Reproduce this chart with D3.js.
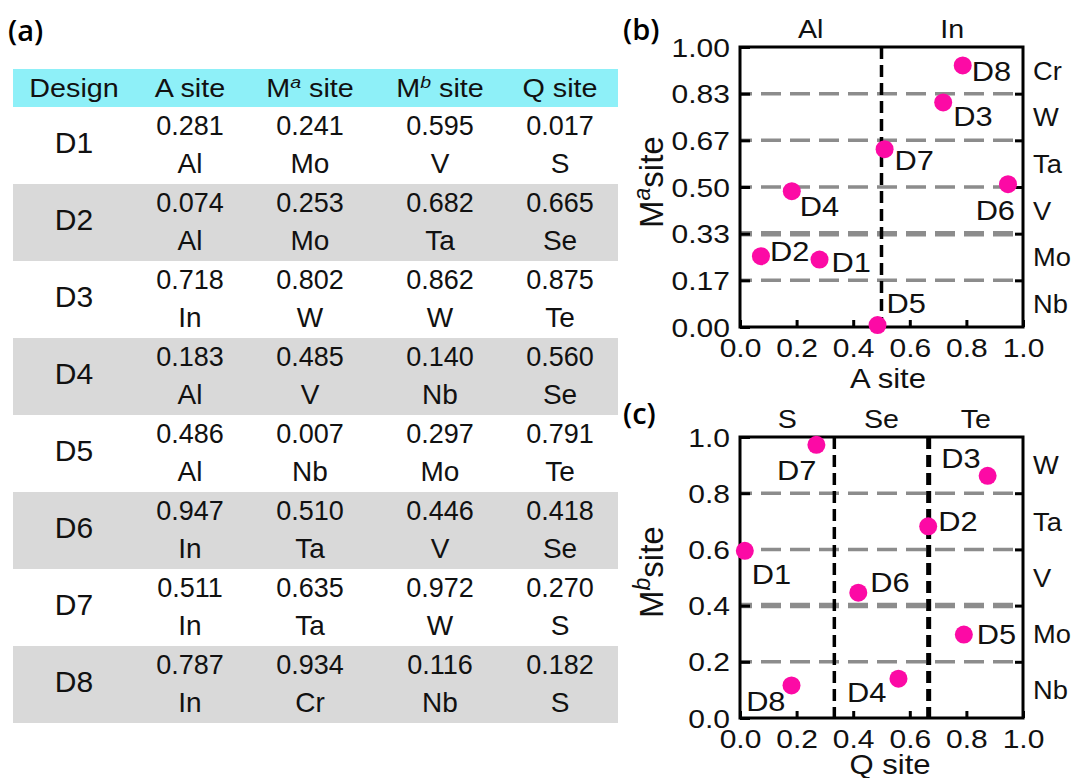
<!DOCTYPE html>
<html>
<head>
<meta charset="utf-8">
<script src="https://cdn.jsdelivr.net/npm/d3@7/dist/d3.min.js"></script>
<style>
  html, body { margin: 0; padding: 0; background: #fff; }
  svg { display: block; }
</style>
</head>
<body>
<svg id="fig" width="1077" height="778"></svg>
<script>
// ---- design table values ----
const designs = ["D1", "D2", "D3", "D4", "D5", "D6", "D7", "D8"];
const aSite  = [0.281, 0.074, 0.718, 0.183, 0.486, 0.947, 0.511, 0.787];
const aElem  = ["Al", "Al", "In", "Al", "Al", "In", "In", "In"];
const maSite = [0.241, 0.253, 0.802, 0.485, 0.007, 0.510, 0.635, 0.934];
const maElem = ["Mo", "Mo", "W", "V", "Nb", "Ta", "Ta", "Cr"];
const mbSite = [0.595, 0.682, 0.862, 0.140, 0.297, 0.446, 0.972, 0.116];
const mbElem = ["V", "Ta", "W", "Nb", "Mo", "V", "W", "Nb"];
const qSite  = [0.017, 0.665, 0.875, 0.560, 0.791, 0.418, 0.270, 0.182];
const qElem  = ["S", "Se", "Te", "Se", "Te", "Se", "S", "S"];

// ---- element categories on each site ----
const aCats  = ["Al", "In"];
const maCats = ["Nb", "Mo", "V", "Ta", "W", "Cr"];
const mbCats = ["Nb", "Mo", "V", "Ta", "W"];
const qCats  = ["S", "Se", "Te"];

// ---- tick labels ----
const maTickLabels = ["0.00", "0.17", "0.33", "0.50", "0.67", "0.83", "1.00"];
const mbTickLabels = ["0.0", "0.2", "0.4", "0.6", "0.8", "1.0"];
const xTickLabels  = ["0.0", "0.2", "0.4", "0.6", "0.8", "1.0"];

const svg = d3.select("#fig");
const PINK = "#fc0aa5";
const TABLE_FONT = "'Liberation Sans', Arial, sans-serif";
const PLOT_FONT = "'Liberation Sans', Arial, sans-serif";
const PANEL_FONT = "'Open Sans', 'Noto Sans', sans-serif";

// ================= (a) table =================
const tbl = svg.append("g");
const tableX = d3.scaleOrdinal()
  .domain(["design", "a", "ma", "mb", "q"])
  .range([74, 190, 310, 440, 560]);
const rowY = d3.scaleBand().domain(designs).range([107, 723]).paddingInner(0);
const TBL_LEFT = 13, TBL_RIGHT = 618;

tbl.append("text").attr("x", 8).attr("y", 41)
  .attr("font-family", PANEL_FONT).attr("font-size", 29).attr("font-weight", 600)
  .text("(a)");

tbl.append("rect").attr("x", TBL_LEFT).attr("y", 69)
  .attr("width", TBL_RIGHT - TBL_LEFT).attr("height", 38)
  .attr("fill", "#8ef0f8");

const headers = [
  { key: "design", parts: [["Design"]] },
  { key: "a", parts: [["A site"]] },
  { key: "ma", parts: [["M"], ["a", "sup"], [" site"]] },
  { key: "mb", parts: [["M"], ["b", "sup"], [" site"]] },
  { key: "q", parts: [["Q site"]] }
];
headers.forEach(h => {
  const t = tbl.append("text")
    .attr("transform", `translate(${tableX(h.key)},97) scale(1.15,1)`)
    .attr("text-anchor", "middle")
    .attr("font-family", TABLE_FONT).attr("font-size", 25).attr("fill", "#111");
  h.parts.forEach(p => {
    const s = t.append("tspan").text(p[0]);
    if (p[1] === "sup") {
      s.attr("dy", -9).attr("font-size", 17).attr("font-style", "italic");
    } else if (t.selectAll("tspan").size() > 1) {
      s.attr("dy", 9);
    }
  });
});

const fmt = d3.format(".3f");
const cols = [
  { key: "a", v: aSite, e: aElem },
  { key: "ma", v: maSite, e: maElem },
  { key: "mb", v: mbSite, e: mbElem },
  { key: "q", v: qSite, e: qElem }
];

designs.forEach((d, i) => {
  const y0 = rowY(d);
  if (i % 2 === 1) {
    tbl.append("rect").attr("x", TBL_LEFT).attr("y", y0).attr("width", TBL_RIGHT - TBL_LEFT)
      .attr("height", rowY.bandwidth()).attr("fill", "#d9d9d9");
  }
  tbl.append("text")
    .attr("transform", `translate(${tableX("design")},${y0 + 46})`)
    .attr("text-anchor", "middle")
    .attr("font-family", TABLE_FONT).attr("font-size", 30).attr("fill", "#111")
    .text(d);
  cols.forEach(c => {
    tbl.append("text")
      .attr("transform", `translate(${tableX(c.key)},${y0 + 28})`)
      .attr("text-anchor", "middle")
      .attr("font-family", TABLE_FONT).attr("font-size", 27).attr("fill", "#111")
      .text(fmt(c.v[i]));
    tbl.append("text")
      .attr("transform", `translate(${tableX(c.key)},${y0 + 66})`)
      .attr("text-anchor", "middle")
      .attr("font-family", TABLE_FONT).attr("font-size", 28).attr("fill", "#111")
      .text(c.e[i]);
  });
});

// ================= scatter panels =================
function drawPanel(opt) {
  const g = svg.append("g");
  const x = d3.scaleLinear().domain([0, 1]).range([740, 1023]);
  const y = d3.scaleLinear().domain([0, 1]).range([opt.bottom, opt.top]);
  const nY = opt.yCats.length;
  const nX = opt.xCats.length;
  const yBounds = d3.range(1, nY).map(k => k / nY);
  const xBounds = d3.range(1, nX).map(k => k / nX);

  // grey horizontal category boundaries
  g.selectAll(".hgrid").data(yBounds).join("line")
    .attr("x1", x(0)).attr("x2", x(1))
    .attr("y1", d => y(d)).attr("y2", d => y(d))
    .attr("stroke", "#8c8c8c")
    .attr("stroke-width", (d, i) => opt.boldH.includes(i + 1) ? 5.5 : 3.5)
    .attr("stroke-dasharray", "20,9").attr("stroke-dashoffset", 8);

  // black vertical category boundaries
  g.selectAll(".vgrid").data(xBounds).join("line")
    .attr("x1", d => x(d)).attr("x2", d => x(d))
    .attr("y1", y(1)).attr("y2", y(0))
    .attr("stroke", "#000")
    .attr("stroke-width", (d, i) => opt.boldV.includes(i + 1) ? 5 : 3.5)
    .attr("stroke-dasharray", "12,6");

  // left axis
  const yTickVals = opt.yTickLabels.map((_, i) => i / (opt.yTickLabels.length - 1));
  const ax = g.append("g").attr("transform", `translate(${x(0)},0)`)
    .call(d3.axisLeft(y).tickValues(yTickVals)
      .tickFormat((_, i) => opt.yTickLabels[i]).tickSize(-10).tickPadding(0));
  // bottom axis
  const bx = g.append("g").attr("transform", `translate(0,${y(0)})`)
    .call(d3.axisBottom(x).tickValues(xTickLabels.map(Number))
      .tickFormat((_, i) => xTickLabels[i]).tickSize(-7).tickPadding(12));
  // right-side ticks at category boundaries
  const rx = g.append("g").attr("transform", `translate(${x(1)},0)`)
    .call(d3.axisRight(y).tickValues(yBounds).tickFormat("").tickSize(-8));

  [ax, bx, rx].forEach(a => {
    a.select(".domain").remove();
    a.selectAll(".tick line").attr("stroke", "#000").attr("stroke-width", 3);
  });
  ax.selectAll(".tick text")
    .attr("x", null)
    .attr("transform", "translate(-10,0) scale(1.2,1)")
    .attr("font-family", PLOT_FONT).attr("font-size", 25).attr("fill", "#111")
    .attr("dy", "0.36em");
  bx.selectAll(".tick text")
    .attr("transform", "scale(1.2,1)")
    .attr("font-family", PLOT_FONT).attr("font-size", 25).attr("fill", "#111");

  // frame
  g.append("rect").attr("x", x(0)).attr("y", y(1))
    .attr("width", x(1) - x(0)).attr("height", y(0) - y(1))
    .attr("fill", "none").attr("stroke", "#000").attr("stroke-width", 3);

  // category names on top and right
  g.selectAll(".topcat").data(opt.xCats).join("text")
    .attr("transform", (d, i) => `translate(${x((i + 0.5) / nX)},${opt.top - 9}) scale(1.1,1)`)
    .attr("text-anchor", "middle")
    .attr("font-family", PLOT_FONT).attr("font-size", 26).attr("fill", "#111")
    .text(d => d);
  g.selectAll(".rightcat").data(opt.yCats).join("text")
    .attr("transform", (d, i) => `translate(1033,${y((i + 0.5) / nY)}) scale(1.05,1)`)
    .attr("dy", "0.36em")
    .attr("font-family", PLOT_FONT).attr("font-size", 26).attr("fill", "#111")
    .text(d => d);

  // axis titles
  g.append("text")
    .attr("transform", `translate(${opt.xTitleX},${opt.xTitleY}) scale(1.15,1)`)
    .attr("text-anchor", "middle")
    .attr("font-family", PLOT_FONT).attr("font-size", 27).attr("fill", "#111")
    .text(opt.xTitle);
  const yt = g.append("text")
    .attr("transform", `translate(663,${opt.yTitleStart}) rotate(-90)`)
    .attr("font-family", PLOT_FONT).attr("font-size", 33).attr("fill", "#111");
  yt.append("tspan").text("M");
  yt.append("tspan").attr("dy", -13).attr("font-size", 23).attr("font-style", "italic")
    .text(opt.ySup);
  yt.append("tspan").attr("dy", 13).text("site");

  // panel letter
  g.append("text").attr("x", 623).attr("y", opt.letterY)
    .attr("font-family", PANEL_FONT).attr("font-size", 29).attr("font-weight", 600)
    .text(opt.letter);

  // points and their labels
  const pts = designs.map((d, i) => ({ name: d, xv: opt.xv[i], yv: opt.yv[i] }));
  g.selectAll(".pt").data(pts).join("circle")
    .attr("cx", d => x(d.xv)).attr("cy", d => y(d.yv)).attr("r", 9)
    .attr("fill", PINK);
  g.selectAll(".ptlab").data(pts).join("text")
    .attr("transform", d => {
      const p = opt.place[d.name];
      return `translate(${x(d.xv) + p[0]},${y(d.yv) + p[1]}) scale(1.1,1)`;
    })
    .attr("text-anchor", d => opt.place[d.name][2])
    .attr("font-family", PLOT_FONT).attr("font-size", 28).attr("fill", "#111")
    .text(d => d.name);
}

// label offsets: [dx, dy to baseline, anchor]
const placeB = {
  D1: [12, 12, "start"], D2: [9, 5, "start"], D3: [10, 24, "start"],
  D4: [8, 25, "start"], D5: [9, -12, "start"], D6: [7, 36, "end"],
  D7: [10, 21, "start"], D8: [9, 16, "start"]
};
const placeC = {
  D1: [7, 33, "start"], D2: [10, 5, "start"], D3: [-7, -8, "end"],
  D4: [-12, 23, "end"], D5: [13, 9, "start"], D6: [12, -1, "start"],
  D7: [0, 35, "end"], D8: [-6, 26, "end"]
};

drawPanel({
  top: 47, bottom: 327, xv: aSite, yv: maSite,
  xCats: aCats, yCats: maCats, yTickLabels: maTickLabels,
  boldH: [2], boldV: [],
  xTitle: "A site", xTitleX: 888, xTitleY: 388,
  ySup: "a", yTitleStart: 228, letter: "(b)", letterY: 40, place: placeB
});
drawPanel({
  top: 437, bottom: 718, xv: qSite, yv: mbSite,
  xCats: qCats, yCats: mbCats, yTickLabels: mbTickLabels,
  boldH: [2], boldV: [2],
  xTitle: "Q site", xTitleX: 890, xTitleY: 774,
  ySup: "b", yTitleStart: 618, letter: "(c)", letterY: 424, place: placeC
});
</script>
</body>
</html>
